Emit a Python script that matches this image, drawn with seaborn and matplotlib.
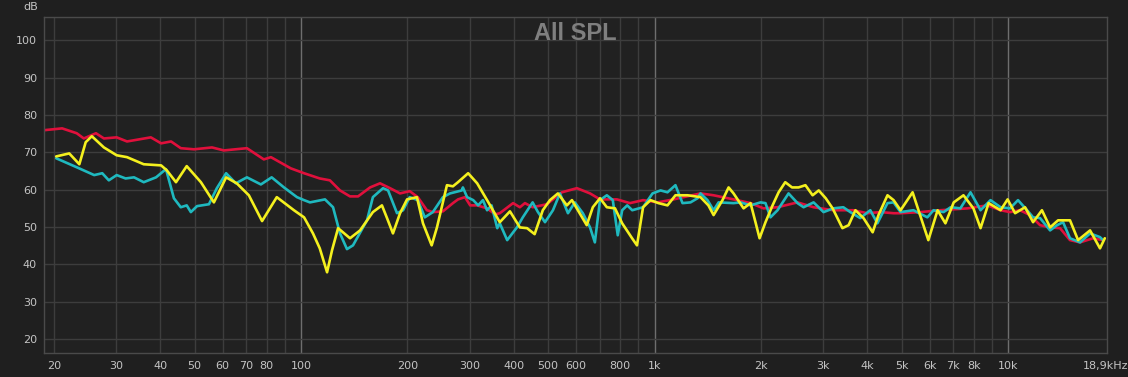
import matplotlib
matplotlib.use("Agg")
import matplotlib.pyplot as plt
import numpy as np
import pandas as pd
import seaborn as sns

# red curve
red_freq = [18.7, 21.1, 23.2, 24.3, 26.3, 27.7, 30.1, 32.2, 37.6, 40.2, 42.9, 45.7, 49.8, 56,
            60.5, 70.3, 78.5, 82.2, 93.6, 102, 113, 120.7, 128.9, 137.6, 145, 156.8, 167.3,
            178.6, 190.6, 203, 214, 227, 236, 252, 269, 278, 291, 301, 315, 336, 354, 365,
            398, 416, 430, 452, 496, 547, 603, 657, 701, 783, 852, 928, 1020, 1132, 1349,
            1469, 1673, 1869, 2034, 2228, 2538, 2818, 3204, 3649, 4000, 4360, 4745, 4966,
            5650, 6430, 7680, 8740, 9525, 10130, 10810, 11540, 12320, 13150, 14030, 14970,
            15980, 17400, 18560]
red_db = [75.9, 76.4, 75.1, 73.7, 75.1, 73.7, 74.0, 72.9, 74.0, 72.4, 72.9, 71.1, 70.8, 71.3,
          70.5, 71.1, 68.1, 68.7, 65.7, 64.4, 63.0, 62.5, 59.8, 58.2, 58.2, 60.6, 61.7,
          60.4, 59.0, 59.6, 58.0, 54.5, 54.0, 54.2, 56.4, 57.4, 58.0, 55.8, 55.8, 55.0, 53.4, 53.7,
          56.4, 55.3, 56.4, 55.3, 56.1, 59.3, 60.4, 59.0, 57.4, 57.4, 56.4, 57.2, 56.6, 57.4, 59.0,
          58.5, 57.4, 56.4, 55.0, 55.3, 56.6, 55.3, 54.5, 54.5, 53.7, 54.0, 53.7, 53.7,
          54.0, 54.5, 55.0, 55.8, 54.5, 54.0, 54.5, 53.2, 50.5, 49.9, 49.7, 46.5,
          45.9, 47.0, 46.5]

# cyan curve
cyan_freq = [20.3, 23.2, 26.0, 27.4, 28.6, 30.1, 31.9, 33.7, 35.9, 38.9, 41.5, 43.7, 45.7, 47.5,
             48.8, 50.8, 54.9, 57.8, 61.4, 65.4, 70.3, 77, 82.6, 89.5, 97.4, 102, 106, 116.9,
             123.2, 128.9, 134.9, 140.3, 153.7, 159.7, 170.6, 176.3, 186.9, 194.4, 203, 214,
             224, 236, 252, 264, 285, 287, 295, 307, 317, 327, 336, 346, 359, 365, 383, 408,
             424, 452, 468, 490, 516, 540, 569, 595, 627, 657, 678, 701, 733, 762, 787, 810,
             837, 865, 928, 987, 1040, 1088, 1146, 1200, 1264, 1323, 1349, 1412, 1469, 1518,
             1673, 1751, 1869, 1995, 2060, 2128, 2228, 2394, 2538, 2640, 2818, 3007, 3204,
             3420, 3580, 3818, 4077, 4270, 4560, 4745, 4966, 5400, 5912, 6155, 6570, 6880,
             7330, 7830, 8360, 8920, 9525, 10130, 10670, 11320, 11770, 12320, 13150, 13760,
             14310, 14970, 15980, 17060, 18200, 18560]
cyan_db = [68.4, 66.0, 63.9, 64.4, 62.5, 63.9, 63.0, 63.3, 62.0, 63.3, 65.5, 57.7, 55.3, 55.8,
           54.0, 55.6, 56.1, 60.4, 64.4, 61.7, 63.3, 61.4, 63.3, 60.6, 58.0, 57.2, 56.6, 57.4,
           55.3, 48.3, 44.1, 45.1, 51.8, 58.0, 60.4, 59.8, 53.7, 54.5, 58.0, 57.2,
           52.6, 54.0, 58.0, 59.0, 59.8, 60.6, 58.0, 57.2, 55.8, 57.2, 54.5, 55.8, 49.7, 51.0, 46.5, 49.9,
           52.6, 56.6, 54.0, 51.3, 54.5, 59.0, 53.7, 56.6, 53.7, 49.9, 45.9, 57.2, 58.5, 57.2, 47.8, 54.5,
           55.8, 54.5, 55.3, 59.0, 59.8, 59.3, 61.2, 56.4, 56.6, 57.7, 59.0, 57.2, 54.5, 56.6,
           56.4, 56.6, 55.8, 56.6, 56.4, 52.6, 54.5, 59.0, 56.4, 55.3, 56.6, 54.0, 55.0,
           55.3, 54.0, 52.4, 54.5, 51.0, 56.4, 56.6, 54.0, 54.5, 52.6, 54.5, 54.0, 55.3,
           55.0, 59.3, 54.5, 57.2, 55.3, 55.0, 57.2, 54.5, 52.6, 52.4, 49.1, 50.5,
           51.3, 47.0, 45.9, 48.3, 47.3, 46.5]

# yellow curve
yellow_freq = [20.3, 22.1, 23.6, 24.6, 25.6, 27.7, 30.1, 32.2, 35.9, 40.2, 41.7, 44.3, 47.5,
               52.1, 56.7, 61.4, 65.8, 71.2, 77.6, 85.4, 95.5, 102, 108.1, 113, 118.5, 122.4,
               127.3, 131.4, 137.6, 146.9, 159.7, 169.4, 175.1, 182, 190.6, 199.5, 212.8,
               221.3, 234.2, 242.4, 258.7, 269, 278, 297, 315, 336, 349, 365, 390, 416, 436,
               458, 483, 506, 533, 565, 584, 607, 643, 669, 701, 733, 773, 810, 864, 892, 928,
               974, 1026, 1088, 1146, 1240, 1349, 1420, 1469, 1557, 1620, 1673, 1786, 1869,
               1930, 1982, 2060, 2157, 2244, 2343, 2449, 2555, 2672, 2800, 2914, 3050, 3190,
               3400, 3540, 3700, 3900, 4140, 4300, 4560, 4745, 4966, 5370, 5580, 5950, 6320,
               6650, 7020, 7480, 7980, 8360, 8810, 9525, 9970, 10470, 11170, 11770, 12470,
               13150, 13850, 14970, 15780, 17060, 18200, 18780]
yellow_db = [68.9, 69.7, 66.8, 72.7, 74.3, 71.3, 69.2, 68.7, 66.8, 66.5, 65.2, 62.0, 66.3,
             62.0, 56.6, 63.3, 61.7, 58.5, 51.6, 58.0, 54.5, 52.6, 48.3, 44.3, 37.9, 43.8,
             49.7, 48.6, 47.0, 49.1, 54.0, 55.8, 52.4, 48.3, 53.7, 57.4, 58.0,
             51.0, 45.1, 49.9, 61.2, 60.9, 62.0, 64.4, 61.7, 57.2, 54.5, 51.3, 54.2, 49.9, 49.7,
             48.1, 54.5, 57.2, 59.0, 55.8, 57.2, 54.5, 50.5, 55.3, 57.7, 55.3, 55.0, 51.0, 47.0, 45.1, 55.3,
             57.2, 56.4, 55.8, 58.5, 58.5, 58.0, 55.8, 53.2, 57.2, 60.6, 59.0, 55.0, 56.4,
             51.3, 47.0, 51.3, 55.8, 59.3, 62.0, 60.6, 60.6, 61.2, 58.5, 59.8, 57.7, 55.0,
             49.7, 50.5, 54.5, 52.4, 48.6, 53.2, 58.5, 57.2, 54.5, 59.3, 54.5, 46.5, 54.5,
             51.0, 56.6, 58.5, 55.0, 49.7, 56.4, 54.5, 57.4, 53.7, 55.3, 51.3, 54.5,
             49.9, 51.8, 51.8, 46.5, 49.1, 44.3, 47.0]

x_ticks = [20, 30, 40, 50, 60, 70, 80, 100, 200, 300, 400, 500, 600, 800,
           1000, 2000, 3000, 4000, 5000, 6000, 7000, 8000, 10000, 18900]
x_labels = ["20", "30", "40", "50", "60", "70", "80", "100", "200", "300", "400", "500",
            "600", "800", "1k", "2k", "3k", "4k", "5k", "6k", "7k", "8k", "10k", "18,9kHz"]
minor_grid = [20, 30, 40, 50, 60, 70, 80, 90, 200, 300, 400, 500, 600, 700, 800, 900,
              2000, 3000, 4000, 5000, 6000, 7000, 8000, 9000]
major_grid = [100, 1000, 10000]
y_ticks = [20, 30, 40, 50, 60, 70, 80, 90, 100]

sns.set_style("dark")
bg = "#1f1f1f"
txt = "#c4c4c4"

fig = plt.figure(figsize=(11.28, 3.77), dpi=100, facecolor=bg)
ax = fig.add_axes([44 / 1128, 1 - 353 / 377, (1107 - 44) / 1128, (353 - 17) / 377])
ax.set_facecolor("#212121")

for f in minor_grid:
    ax.axvline(f, color="#3d3d3d", linewidth=1, zorder=0)
for f in major_grid:
    ax.axvline(f, color="#6e6e6e", linewidth=1, zorder=0)
for v in y_ticks:
    ax.axhline(v, color="#3d3d3d", linewidth=1, zorder=0)

series = [
    (red_freq, red_db, "#e0103c"),
    (cyan_freq, cyan_db, "#1fb9bf"),
    (yellow_freq, yellow_db, "#f4f01e"),
]
for fr, db, col in series:
    df = pd.DataFrame({"freq": fr, "db": db})
    sns.lineplot(data=df, x="freq", y="db", color=col, linewidth=1.9,
                 estimator=None, sort=False, ax=ax,
                 solid_joinstyle="round", solid_capstyle="round")

ax.set_xscale("log")
ax.set_xlim(18.75, 19050)
ax.set_ylim(16.3, 106.2)
ax.set_xticks(x_ticks)
ax.set_xticklabels(x_labels)
ax.xaxis.set_minor_locator(matplotlib.ticker.NullLocator())
ax.set_yticks(y_ticks)
ax.set_yticklabels([str(v) for v in y_ticks])
ax.tick_params(axis="both", length=0, labelsize=8, colors=txt)
ax.tick_params(axis="x", pad=6)
ax.tick_params(axis="y", pad=5)
ax.get_xticklabels()[-1].set_horizontalalignment("center")
ax.set_xlabel("")
ax.set_ylabel("")
ax.grid(False)
for s in ax.spines.values():
    s.set_visible(True)
    s.set_color("#4a4a4a")
    s.set_linewidth(1)

ax.text(0.5, 0.952, "All SPL", transform=ax.transAxes, ha="center", va="center",
        fontsize=17, fontweight="bold", color="#7f7f7f", family="Liberation Sans")
fig.text(38 / 1128, 1 - 7 / 377, "dB", ha="right", va="center", fontsize=8, color=txt)

fig.savefig("out.png", dpi=100, facecolor=bg)
